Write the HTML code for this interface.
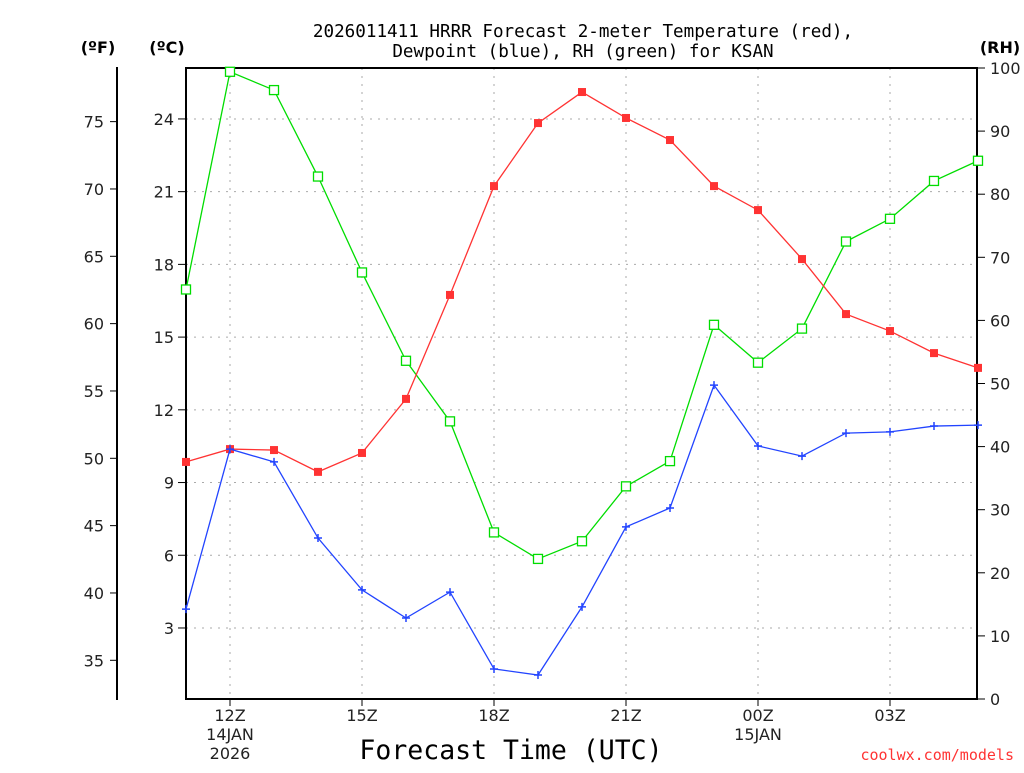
<!DOCTYPE html>
<html><head><meta charset="utf-8">
<style>
html,body{margin:0;padding:0;background:#fff;}
svg text{font-family:"DejaVu Sans","Liberation Sans",sans-serif;}
svg text.mono{font-family:"DejaVu Sans Mono","Liberation Mono",monospace;}
</style></head>
<body>
<svg id="chart" width="1024" height="768" viewBox="0 0 1024 768" xmlns="http://www.w3.org/2000/svg">
<text class="mono" x="583" y="37" font-size="17.6" text-anchor="middle">2026011411 HRRR Forecast 2-meter Temperature (red),</text>
<text class="mono" x="583" y="57" font-size="17.6" text-anchor="middle">Dewpoint (blue), RH (green) for KSAN</text>
<text x="98" y="53" font-size="16" font-weight="bold" text-anchor="middle">(ºF)</text>
<text x="167" y="53" font-size="16" font-weight="bold" text-anchor="middle">(ºC)</text>
<text x="1000" y="53" font-size="16" font-weight="bold" text-anchor="middle">(RH)</text>
<text class="mono" x="511" y="759" font-size="26.5" text-anchor="middle">Forecast Time (UTC)</text>
<text class="mono" x="1014" y="760" font-size="15" fill="#ff3333" text-anchor="end">coolwx.com/models</text>
<g id="grid"></g>
<g id="axes"></g>
<g id="series"></g>
</svg>
<script>
const hours = ["11","12","13","14","15","16","17","18","19","20","21","22","23","00","01","02","03","04","05"];
const tempC = [9.85,10.38,10.34,9.44,10.22,12.45,16.74,21.23,23.83,25.11,24.04,23.13,21.23,20.24,18.22,15.95,15.25,14.34,13.73];
const dewC = [3.78,10.38,9.85,6.71,4.57,3.41,4.48,1.31,1.06,3.87,7.17,7.95,13.02,10.51,10.09,11.04,11.09,11.33,11.37];
const rh = [64.9,99.4,96.5,82.8,67.6,53.6,44.0,26.4,22.2,25.0,33.7,37.7,59.3,53.3,58.7,72.5,76.1,82.1,85.3];
const cTicks = [3,6,9,12,15,18,21,24];
const fTicks = [35,40,45,50,55,60,65,70,75];
const rhTicks = [0,10,20,30,40,50,60,70,80,90,100];
const xTickIdx = [1,4,7,10,13,16];
const xTickLabels = ["12Z","15Z","18Z","21Z","00Z","03Z"];

const NS="http://www.w3.org/2000/svg";
const L=186,R=977,T=68,B=699;
const x = i => L + i*44;
const yC = c => 700.7 - c*24.24;
const yF = f => yC((f-32)*5/9);
const yRH = v => B - v*(B-T)/100;
function mk(tag, attrs, parent){const e=document.createElementNS(NS,tag);for(const k in attrs)e.setAttribute(k,attrs[k]);parent.appendChild(e);return e;}
const grid=document.getElementById('grid'),axes=document.getElementById('axes'),ser=document.getElementById('series');

cTicks.forEach(c=>{
  const l=mk('line',{x1:L,x2:R,y1:yC(c),y2:yC(c),stroke:'#aaa','stroke-dasharray':'2,6'},grid);
  
  
  mk('line',{x1:L-8,x2:L,y1:yC(c),y2:yC(c),stroke:'#000'},axes);
  const t=mk('text',{x:L-12,y:yC(c)+6,'font-size':16,'text-anchor':'end',fill:'#222'},axes);
  t.textContent=c;
  
  
});
xTickIdx.forEach((i,k)=>{
  const l=mk('line',{x1:x(i),x2:x(i),y1:T,y2:B,stroke:'#aaa','stroke-dasharray':'2,6'},grid);
  
  
  mk('line',{x1:x(i),x2:x(i),y1:B,y2:B+7,stroke:'#000'},axes);
  const t=mk('text',{x:x(i),y:721,'font-size':16,'text-anchor':'middle',fill:'#222'},axes);
  t.textContent=xTickLabels[k];
  
  
});
[["14JAN",x(1),740],["2026",x(1),759],["15JAN",x(13),740]].forEach(d=>{
  const t=mk('text',{x:d[1],y:d[2],'font-size':16,'text-anchor':'middle',fill:'#222'},axes);
  t.textContent=d[0];
  
  
});
fTicks.forEach(f=>{
  mk('line',{x1:110,x2:117,y1:yF(f),y2:yF(f),stroke:'#000'},axes);
  const t=mk('text',{x:104,y:yF(f)+6,'font-size':16,'text-anchor':'end',fill:'#222'},axes);
  t.textContent=f;
  
  
});
rhTicks.forEach(v=>{
  mk('line',{x1:R,x2:R+8,y1:yRH(v),y2:yRH(v),stroke:'#000'},axes);
  const t=mk('text',{x:R+13,y:yRH(v)+6,'font-size':16,'text-anchor':'start',fill:'#222'},axes);
  t.textContent=v;
  
  
});
mk('line',{x1:117,x2:117,y1:67,y2:700,stroke:'#000','stroke-width':2},axes);
const frame=mk('rect',{x:L,y:T,width:R-L,height:B-T,fill:'none',stroke:'#000','stroke-width':2},axes);



function pts(arr,fy){return arr.map((v,i)=>x(i)+','+fy(v)).join(' ');}
const g1=mk('polyline',{points:pts(rh,yRH),fill:'none',stroke:'#00dd00','stroke-width':1.3},ser);


rh.forEach((v,i)=>{const m=mk('rect',{x:x(i)-4.5,y:yRH(v)-4.5,width:9,height:9,fill:'#fff',stroke:'#00dd00','stroke-width':1.3},ser);
  
  });
const r1=mk('polyline',{points:pts(tempC,yC),fill:'none',stroke:'#ff3333','stroke-width':1.3},ser);


tempC.forEach((v,i)=>{const m=mk('rect',{x:x(i)-4,y:yC(v)-4,width:8,height:8,fill:'#ff3333'},ser);
  
  });
const b1=mk('polyline',{points:pts(dewC,yC),fill:'none',stroke:'#2244ff','stroke-width':1.3},ser);


dewC.forEach((v,i)=>{const m=mk('path',{d:`M${x(i)-4},${yC(v)}h8M${x(i)},${yC(v)-4}v8`,stroke:'#2244ff','stroke-width':1.5},ser);
  
  });
</script>
</body></html>
